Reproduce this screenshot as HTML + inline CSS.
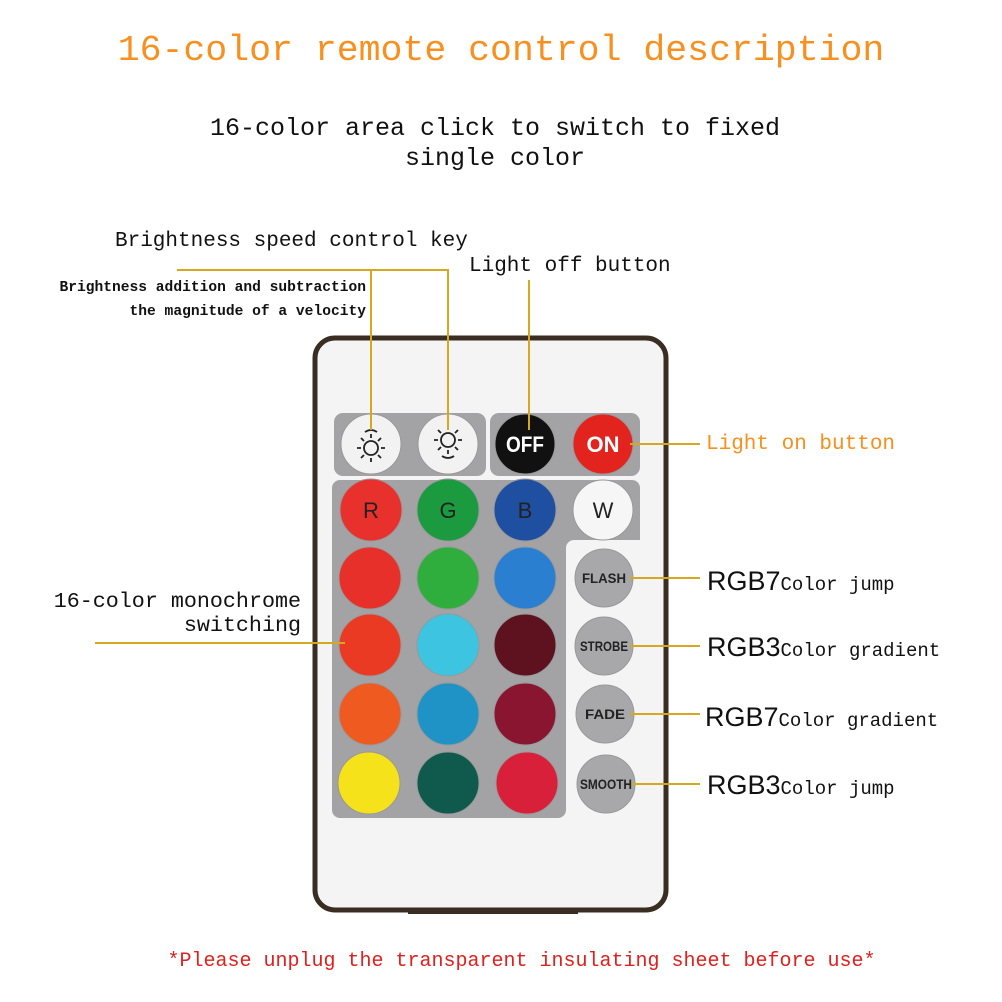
<!DOCTYPE html>
<html><head><meta charset="utf-8"><style>
body{margin:0;width:1002px;height:1002px;background:#fff;position:relative;overflow:hidden;font-family:"Liberation Mono","Noto Serif CJK SC",monospace;}
.t{position:absolute;white-space:nowrap;line-height:1;}
</style></head><body>
<div class="t" style="left:0;width:1002px;text-align:center;top:33px;font-size:36.5px;color:#f7901e;">16-color remote control description</div>
<div class="t" style="left:0;width:990px;text-align:center;top:116px;font-size:25px;color:#111;">16-color area click to switch to fixed</div>
<div class="t" style="left:0;width:990px;text-align:center;top:146px;font-size:25px;color:#111;">single color</div>
<div class="t" style="left:115px;top:231px;font-size:21px;color:#111;">Brightness speed control key</div>
<div class="t" style="left:469px;top:256px;font-size:21px;color:#111;">Light off button</div>
<div class="t" style="left:0;width:366px;text-align:right;top:281px;font-size:14.6px;color:#111;font-weight:bold;">Brightness addition and subtraction</div>
<div class="t" style="left:0;width:366px;text-align:right;top:305px;font-size:14.6px;color:#111;font-weight:bold;">the magnitude of a velocity</div>
<div class="t" style="left:706px;top:434px;font-size:21px;color:#f7901e;">Light on button</div>
<div class="t" style="left:0;width:301px;text-align:right;top:591px;font-size:21.7px;color:#111;">16-color monochrome</div>
<div class="t" style="left:0;width:301px;text-align:right;top:615px;font-size:21.7px;color:#111;">switching</div>
<div class="t" style="left:707px;top:568px;font-size:19px;color:#111;"><span style="font-family:'Liberation Sans',sans-serif;font-size:27px;">RGB7</span>Color jump</div>
<div class="t" style="left:707px;top:634px;font-size:19px;color:#111;"><span style="font-family:'Liberation Sans',sans-serif;font-size:27px;">RGB3</span>Color gradient</div>
<div class="t" style="left:705px;top:704px;font-size:19px;color:#111;"><span style="font-family:'Liberation Sans',sans-serif;font-size:27px;">RGB7</span>Color gradient</div>
<div class="t" style="left:707px;top:772px;font-size:19px;color:#111;"><span style="font-family:'Liberation Sans',sans-serif;font-size:27px;">RGB3</span>Color jump</div>
<div class="t" style="left:0;width:1043px;text-align:center;top:952px;font-size:20px;color:#e0201e;">*Please unplug the transparent insulating sheet before use*</div>

<svg width="1002" height="1002" style="position:absolute;left:0;top:0" font-family="Liberation Sans, sans-serif">
<rect x="315" y="338" width="351" height="572" rx="20" fill="#f4f4f4" stroke="#3a2e22" stroke-width="5"/>
<rect x="408" y="908" width="170" height="6" fill="#3a2e22"/>
<rect x="334" y="413" width="152" height="63" rx="9" fill="#a3a3a6"/>
<rect x="490" y="413" width="150" height="63" rx="9" fill="#a3a3a6"/>
<path d="M340 480 H632 a8 8 0 0 1 8 8 V540 H574 a8 8 0 0 0 -8 8 V810 a8 8 0 0 1 -8 8 H340 a8 8 0 0 1 -8 -8 V488 a8 8 0 0 1 8 -8Z" fill="#a3a3a6"/>
<g stroke="#999" stroke-width="1">
<circle cx="371" cy="444" r="30" fill="#f2f2f2"/>
<circle cx="448" cy="444" r="30" fill="#f2f2f2"/>
<circle cx="525" cy="444" r="30" fill="#111"/>
<circle cx="603" cy="444" r="30" fill="#e2231e"/>
<circle cx="371" cy="510" r="31" fill="#e8312c"/>
<circle cx="448" cy="510" r="31" fill="#1b9a40"/>
<circle cx="525" cy="510" r="31" fill="#1f4fa0"/>
<circle cx="603" cy="510" r="30" fill="#f6f6f6"/>
<circle cx="370" cy="578" r="31" fill="#e8302a"/>
<circle cx="448" cy="578" r="31" fill="#2fae3e"/>
<circle cx="525" cy="578" r="31" fill="#2a7fd0"/>
<circle cx="370" cy="645" r="31" fill="#ea3a24"/>
<circle cx="448" cy="645" r="31" fill="#3cc4e0"/>
<circle cx="525" cy="645" r="31" fill="#5e1220"/>
<circle cx="370" cy="714" r="31" fill="#ee5a20"/>
<circle cx="448" cy="714" r="31" fill="#1f93c6"/>
<circle cx="525" cy="714" r="31" fill="#8a1530"/>
<circle cx="369" cy="783" r="31" fill="#f6e21a"/>
<circle cx="448" cy="783" r="31" fill="#0f5a4c"/>
<circle cx="527" cy="783" r="31" fill="#d8203a"/>
<circle cx="604" cy="578" r="29" fill="#a8a8aa"/>
<circle cx="604" cy="646" r="29" fill="#a8a8aa"/>
<circle cx="605" cy="714" r="29" fill="#a8a8aa"/>
<circle cx="606" cy="784" r="29" fill="#a8a8aa"/>
</g>
<g fill="none" stroke="#222" stroke-width="1.8">
<circle cx="371" cy="448" r="7"/>
<path d="M371 438v-4M371 458v4M361 448h-4M381 448h4M364 441l-3-3M378 441l3-3M364 455l-3 3M378 455l3 3"/>
<path d="M365 432 q6 -4 12 0"/>
<circle cx="448" cy="440" r="7"/>
<path d="M448 430v-4M448 450v4M438 440h-4M458 440h4M441 433l-3-3M455 433l3-3M441 447l-3 3M455 447l3 3"/>
<path d="M442 456 q6 4 12 0"/>
</g>
<g font-size="22" text-anchor="middle">
<text x="525" y="452" fill="#fff" font-weight="bold" textLength="38" lengthAdjust="spacingAndGlyphs">OFF</text>
<text x="603" y="452" fill="#fff" font-weight="bold">ON</text>
<text x="371" y="518" fill="#222">R</text>
<text x="448" y="518" fill="#222">G</text>
<text x="525" y="518" fill="#222">B</text>
<text x="603" y="518" fill="#222">W</text>
</g>
<g font-size="14" text-anchor="middle" fill="#222" font-weight="bold">
<text x="604" y="583" textLength="44" lengthAdjust="spacingAndGlyphs">FLASH</text>
<text x="604" y="651" textLength="48" lengthAdjust="spacingAndGlyphs">STROBE</text>
<text x="605" y="719" textLength="40" lengthAdjust="spacingAndGlyphs">FADE</text>
<text x="606" y="789" textLength="52" lengthAdjust="spacingAndGlyphs">SMOOTH</text>
</g>
<g stroke="#d4a820" stroke-width="2" fill="none">
<path d="M177 270 H448 V430 M371 270 V430"/>
<path d="M529 280 V430"/>
<path d="M630 444 H700"/>
<path d="M630 578 H700 M630 646 H700 M630 714 H700 M632 784 H700"/>
<path d="M95 643 H345"/>
</g>
</svg>
</body></html>
